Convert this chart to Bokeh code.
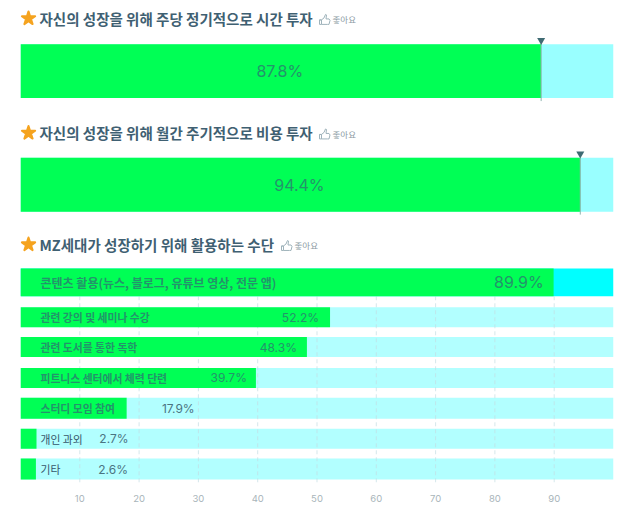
from bokeh.plotting import figure
from bokeh.models import Range1d, ColumnDataSource, FixedTicker
from bokeh.core.properties import value
from bokeh.embed import file_html
from bokeh.resources import INLINE

# Data
titles = ["자신의 성장을 위해 주당 정기적으로 시간 투자",
          "자신의 성장을 위해 월간 주기적으로 비용 투자",
          "MZ세대가 성장하기 위해 활용하는 수단"]
like_label = "좋아요"
top_values = [87.8, 94.4]
categories = ["콘텐츠 활용(뉴스, 블로그, 유튜브 영상, 전문 앱)", "관련 강의 및 세미나 수강", "관련 도서를 통한 독학",
              "피트니스 센터에서 체력 단련", "스터디 모임 참여", "개인 과외", "기타"]
cat_values = [89.9, 52.2, 48.3, 39.7, 17.9, 2.7, 2.6]
ticks = [10, 20, 30, 40, 50, 60, 70, 80, 90]

# Layout (vertical positions, in px from the top of the chart)
title_y = [18, 133, 245]
like_start = [332, 332, 294]
top_rows = [(44, 98), (158, 212)]
cat_rows = [(269, 297), (308, 328), (338, 358), (369, 389), (399, 420), (430, 450), (460, 481)]
pct_off = [-10, -11, -10, -9, 68, 92, 92]
FONT = value("Noto Sans CJK KR")
GREEN, PALE, CYAN, LIGHT = "#00ff55", "#99ffff", "#00ffff", "#b2ffff"
INK, ON_GREEN = "#3f6072", "#23946b"
PX = 100 / 593  # one pixel in value units

p = figure(width=624, height=504, output_backend="svg", toolbar_location=None,
           x_range=Range1d(0, 100), y_range=Range1d(486, 0),
           min_border_left=20, min_border_right=11, min_border_top=0, min_border_bottom=18,
           outline_line_color=None, background_fill_color="white", border_fill_color="white")
p.xgrid.visible = False
p.ygrid.visible = False
p.yaxis.visible = False
ax = p.xaxis[0]
ax.ticker = FixedTicker(ticks=ticks)
ax.axis_line_color = None
ax.major_tick_line_color = None
ax.minor_tick_line_color = None
ax.major_label_text_color = "#a9b5ba"
ax.major_label_text_font = "Inter"
ax.major_label_text_font_size = "9.5px"
ax.major_label_standoff = 4

# top bars
tops = [r[0] for r in top_rows]
bots = [r[1] for r in top_rows]
p.quad(left=0, right=100, top=tops, bottom=bots, fill_color=PALE, line_color=None)
p.quad(left=0, right=top_values, top=tops, bottom=bots, fill_color=GREEN, line_color=None)
p.segment(x0=top_values, x1=top_values, y0=tops, y1=[b + 3 for b in bots], line_color="#8fb5b0", line_width=1)
p.scatter(x=top_values, y=[t - 4 for t in tops], marker="inverted_triangle", size=8,
          fill_color="#3f6b73", line_color=None)
p.text(x=[v / 2 for v in top_values], y=[(t + b) / 2 for t, b in top_rows],
       text=[f"{v}%" for v in top_values], x_offset=-1, text_align="center", text_baseline="middle",
       text_font=value("Inter"), text_font_size="16px", text_color=ON_GREEN)

# category bars
ctop = [r[0] for r in cat_rows]
cbot = [r[1] for r in cat_rows]
p.quad(left=0, right=100, top=ctop, bottom=cbot, fill_color=[CYAN] + [LIGHT] * 6, line_color=None)
p.segment(x0=ticks, x1=ticks, y0=[297] * 9, y1=[486] * 9, line_color="#c3dde2", line_alpha=0.7,
          line_width=1, line_dash="4 3")
p.quad(left=0, right=cat_values, top=ctop, bottom=cbot, fill_color=GREEN, line_color=None)

mid = [(a + b) / 2 for a, b in cat_rows]
p.text(x=[0] * 5, y=mid[:5], text=categories[:5], x_offset=20, text_baseline="middle", text_font=FONT,
       text_font_size=["12px"] + ["10.8px"] * 4, text_color=ON_GREEN, text_font_style="bold")
p.text(x=[0] * 2, y=mid[5:], text=categories[5:], x_offset=20, text_baseline="middle", text_font=FONT,
       text_font_size="10.8px", text_color="#35566a")
pct_src = ColumnDataSource(dict(x=cat_values, y=mid, t=[f"{v}%" for v in cat_values], o=pct_off,
                                c=[ON_GREEN] * 4 + ["#4a7482"] * 3,
                                s=["16px"] + ["12px"] * 6))
p.text(x="x", y="y", text="t", x_offset="o", source=pct_src, text_align="right", text_baseline="middle",
       text_font=value("Inter"), text_font_size="s", text_color="c")

# titles
p.scatter(x=[8 * PX] * 3, y=title_y, marker="star", size=14, line_width=2, line_join="round",
          fill_color="#f5a31f", line_color="#f5a31f")
p.text(x=[0] * 3, y=title_y, text=titles, x_offset=19, text_baseline="middle", text_font=FONT,
       text_font_size="14.5px", text_font_style="bold", text_color=INK)
lx = [(e - 20) * PX for e in like_start]
p.text(x=lx, y=[t + 1 for t in title_y], text=[like_label] * 3, text_baseline="middle", text_font=FONT,
       text_font_size="8.5px", text_color="#8a9aa3")

# thumbs-up icon, outline only, placed just before each "like" label
icon_x = [-13, -13, -11, -11, -13, -13, -11, -8.5, -7, -6, -6.5, -3.5, -2.5, -3.5, -5, -11]
icon_y = [0.5, 5, 5, 0.5, 0.5, 0.5, 0.5, -1.5, -5, -4.5, -0.5, -0.5, 1, 5, 5, 5]
for sx, ty in zip(lx, title_y):
    p.line([sx + dx * PX for dx in icon_x], [ty + 1 + dy for dy in icon_y],
           line_color="#9fb3bb", line_width=1)

open("out.html", "w").write(file_html(p, INLINE))
